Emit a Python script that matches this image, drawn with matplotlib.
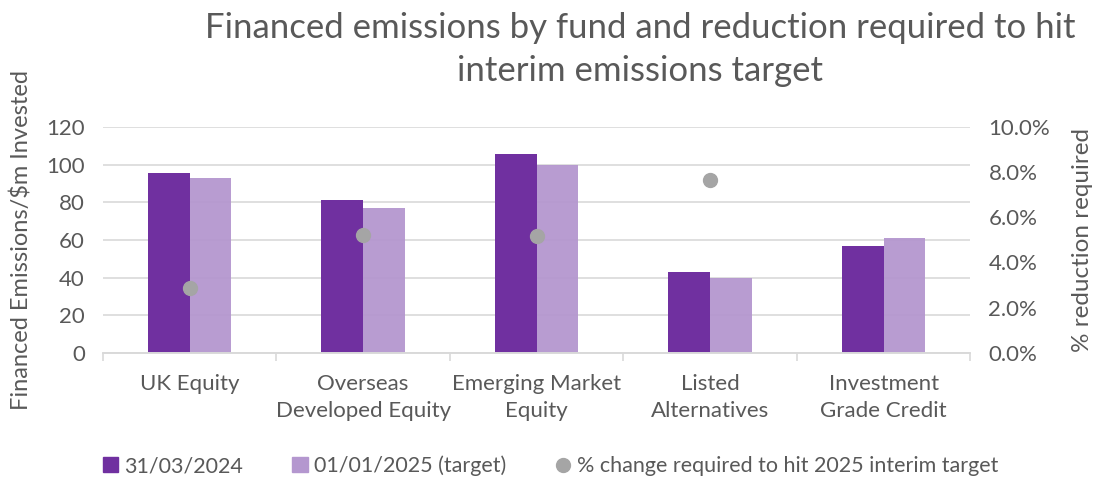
import numpy as np
import matplotlib.pyplot as plt
from matplotlib.ticker import FuncFormatter
from matplotlib.lines import Line2D
from matplotlib.patches import Patch

# data
funds = ["UK Equity", "Overseas\nDeveloped Equity", "Emerging Market\nEquity",
         "Listed\nAlternatives", "Investment\nGrade Credit"]
emis_2024 = [95.5, 81, 105.5, 43, 57]
emis_2025 = [93, 77, 100, 40, 61]
pct_change = [2.85, 5.2, 5.15, 7.65, np.nan]

dark = "#7030A0"
light = "#B497CF"
grey = "#A5A5A5"
txt = "#595959"

plt.rcParams["font.family"] = ["Lato", "DejaVu Sans"]

fig = plt.figure(figsize=(10.94, 4.88), dpi=100)
ax = fig.add_axes([0.094, 0.277, 0.793, 0.463])
ax2 = ax.twinx()

x = np.arange(len(funds))
w = 0.24
ax.bar(x - w / 2, emis_2024, w, color=dark, zorder=2)
ax.bar(x + w / 2, emis_2025, w, color=light, alpha=0.95, zorder=2)
ax2.plot(x, pct_change, "o", color=grey, markersize=10, zorder=3)

ax.set_xlim(-0.5, len(funds) - 0.5)
ax.set_ylim(0, 120)
ax.set_yticks(range(0, 121, 20))
ax2.set_ylim(0, 10)
ax2.set_yticks(np.arange(0, 10.1, 2))
ax2.yaxis.set_major_formatter(FuncFormatter(lambda v, p: f"{v:.1f}%"))

ax.grid(axis="y", color="#D9D9D9", linewidth=1.2, zorder=0)
ax.set_axisbelow(True)
for a in (ax, ax2):
    for s in ["top", "left", "right"]:
        a.spines[s].set_visible(False)
    a.spines["bottom"].set_color("#D9D9D9")
    a.spines["bottom"].set_linewidth(1.2)
    a.tick_params(axis="y", length=0, labelsize=16, colors=txt, pad=13)

ax.set_xticks(np.arange(-0.5, len(funds), 1.0), minor=False)
ax.set_xticklabels([])
ax.tick_params(axis="x", which="major", length=6, color="#D9D9D9", width=1.2)
ax.set_xticks(x, minor=True)
ax.set_xticklabels(funds, minor=True, fontsize=16, color=txt, va="top")
ax.tick_params(axis="x", which="minor", length=0, pad=15)
for lbl in ax.get_xticklabels(minor=True):
    lbl.set_linespacing(1.45)

ax.set_ylabel("Financed Emissions/$m Invested", fontsize=17, color=txt, labelpad=10)
ax2.set_ylabel("% reduction required", fontsize=17.5, color=txt, labelpad=16)

fig.text(0.585, 0.975, "Financed emissions by fund and reduction required to hit\ninterim emissions target",
         ha="center", va="top", fontsize=25, color=txt, linespacing=1.4)

handles = [Patch(color=dark), Patch(color=light),
           Line2D([], [], marker="o", color=grey, linestyle="none", markersize=10)]
labels = ["31/03/2024", "01/01/2025 (target)", "% change required to hit 2025 interim target"]
fig.legend(handles, labels, loc="center left", bbox_to_anchor=(0.076, 0.045), ncol=3,
           frameon=False, fontsize=15.5, labelcolor=txt, handlelength=0.7, handleheight=0.7,
           handletextpad=0.3, columnspacing=2.3)

plt.savefig("out.png", dpi=100)
